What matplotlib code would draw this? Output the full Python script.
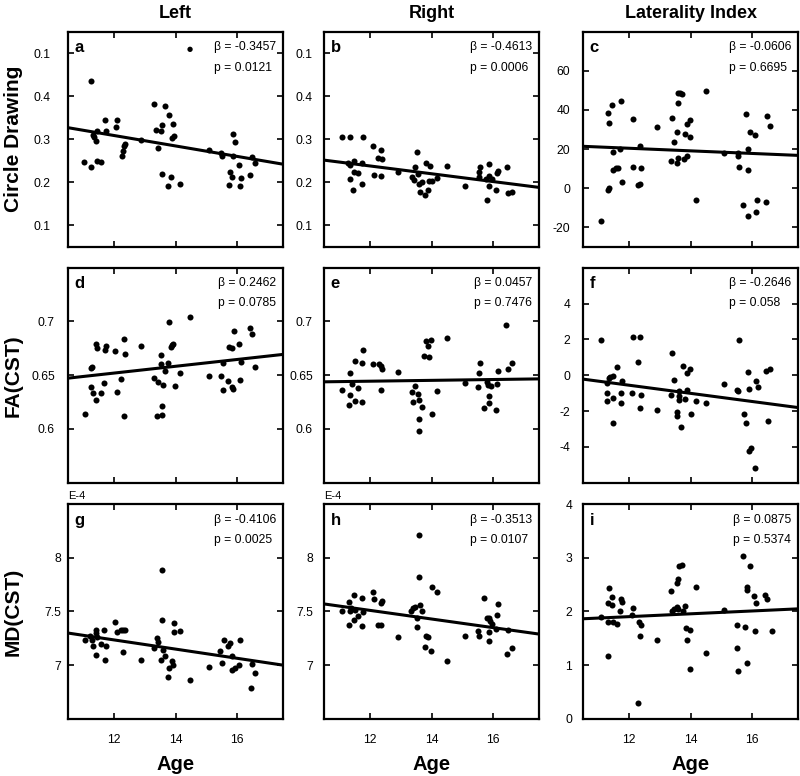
import numpy as np
import matplotlib
matplotlib.use("Agg")
import matplotlib.pyplot as plt

plt.rcParams['font.family'] = ['Liberation Sans', 'DejaVu Sans']

# --- data ---
age_a = [11.26, 11.02, 11.26, 11.30, 11.35, 11.43, 11.40, 11.43, 11.56, 11.70, 11.72, 12.05, 12.09,
         12.25, 12.30, 12.33, 12.35, 12.89, 13.31, 13.37, 13.43, 13.53, 13.56, 13.57, 13.66, 13.75,
         13.79, 13.86, 13.88, 13.92, 13.96, 14.15, 15.08, 15.48, 15.51, 15.73, 15.76, 15.86, 15.86,
         15.85, 15.92, 16.07, 16.10, 16.13, 16.43, 16.48, 16.59]
val_a = [0.436, 0.247, 0.235, 0.310, 0.305, 0.319, 0.295, 0.250, 0.247, 0.346, 0.319, 0.328, 0.344,
         0.260, 0.272, 0.284, 0.290, 0.299, 0.381, 0.322, 0.280, 0.319, 0.333, 0.219, 0.378, 0.192,
         0.357, 0.212, 0.304, 0.336, 0.308, 0.196, 0.274, 0.267, 0.260, 0.194, 0.223, 0.312, 0.262,
         0.212, 0.294, 0.241, 0.192, 0.209, 0.217, 0.258, 0.246]

age_b = [11.09, 11.35, 11.78, 11.27, 11.33, 11.46, 11.35, 11.43, 11.49, 11.61, 11.72, 11.74, 12.09,
         12.13, 12.27, 12.35, 12.38, 12.35, 12.91, 13.35, 13.43, 13.46, 13.54, 13.57, 13.59, 13.61,
         13.70, 13.77, 13.83, 13.89, 13.90, 13.96, 14.00, 14.17, 14.50, 15.10, 15.58, 15.55, 15.55,
         15.76, 15.80, 15.86, 15.88, 15.88, 15.95, 16.08, 16.14, 16.16, 16.45, 16.50, 16.60]
val_b = [0.305, 0.305, 0.305, 0.246, 0.241, 0.250, 0.208, 0.181, 0.225, 0.221, 0.245, 0.196, 0.285,
         0.218, 0.257, 0.275, 0.254, 0.214, 0.223, 0.212, 0.206, 0.236, 0.271, 0.219, 0.196, 0.177,
         0.200, 0.171, 0.245, 0.181, 0.204, 0.238, 0.204, 0.210, 0.239, 0.192, 0.235, 0.223, 0.212,
         0.208, 0.158, 0.242, 0.215, 0.192, 0.208, 0.183, 0.222, 0.227, 0.236, 0.175, 0.177]

age_c = [11.08, 11.31, 11.34, 11.43, 11.32, 11.34, 11.46, 11.48, 11.57, 11.62, 11.73, 11.71, 11.77,
         12.11, 12.13, 12.27, 12.34, 12.35, 12.38, 12.90, 13.34, 13.40, 13.45, 13.55, 13.55, 13.59,
         13.59, 13.58, 13.65, 13.73, 13.77, 13.82, 13.87, 13.89, 13.98, 13.97, 14.17, 14.50, 15.08,
         15.52, 15.53, 15.57, 15.71, 15.79, 15.85, 15.86, 15.86, 15.92, 16.08, 16.11, 16.15, 16.43,
         16.49, 16.59]
val_c = [-16.6, 38.6, 33.5, 42.7, -1.0, 0.2, 18.6, 9.2, 10.1, 10.4, 44.6, 20.0, 3.1,
         10.9, 35.2, 1.5, 2.2, 21.4, 10.4, 31.5, 13.8, 35.7, 23.8, 13.0, 28.9, 15.6,
         43.8, 48.5, 48.5, 48.4, 14.7, 27.9, 16.4, 33.0, 34.9, 26.3, -6.0, 49.7, 17.8,
         18.1, 16.4, 10.8, -8.4, 37.8, 20.2, 9.2, -14.5, 28.9, 27.0, -12.3, -6.3, -7.2,
         36.9, 31.8]

age_d = [11.04, 11.26, 11.29, 11.26, 11.31, 11.42, 11.42, 11.43, 11.56, 11.67, 11.73, 11.70, 12.04,
         12.08, 12.24, 12.31, 12.35, 12.32, 12.87, 13.31, 13.39, 13.43, 13.53, 13.53, 13.56, 13.57,
         13.58, 13.65, 13.74, 13.79, 13.85, 13.89, 13.93, 13.97, 14.14, 14.48, 15.08, 15.48, 15.53,
         15.55, 15.72, 15.75, 15.85, 15.83, 15.86, 15.91, 16.07, 16.11, 16.14, 16.42, 16.48, 16.59]
val_d = [0.6136, 0.6565, 0.6572, 0.6394, 0.6332, 0.6270, 0.6790, 0.6750, 0.6332, 0.6425, 0.6774,
         0.6734, 0.6727, 0.6347, 0.6469, 0.6836, 0.6696, 0.6120, 0.6774, 0.6478, 0.6120, 0.6438,
         0.6687, 0.6603, 0.6132, 0.6213, 0.6410, 0.6540, 0.6618, 0.6998, 0.6759, 0.6780, 0.6790,
         0.6400, 0.6525, 0.7045, 0.6488, 0.6488, 0.6618, 0.6363, 0.6447, 0.6765, 0.6750, 0.6391,
         0.6375, 0.6911, 0.6793, 0.6453, 0.6625, 0.6936, 0.6880, 0.6572]

age_e = [11.09, 11.33, 11.35, 11.30, 11.41, 11.50, 11.50, 11.62, 11.72, 11.74, 11.78, 12.10, 12.30,
         12.34, 12.38, 12.35, 12.90, 13.35, 13.41, 13.46, 13.57, 13.60, 13.60, 13.60, 13.70, 13.76,
         13.90, 13.83, 13.97, 13.88, 14.00, 14.17, 14.50, 15.10, 15.52, 15.54, 15.58, 15.72, 15.80,
         15.84, 15.92, 15.86, 15.87, 16.09, 16.13, 16.16, 16.43, 16.50, 16.60]
val_e = [0.6360, 0.6519, 0.6313, 0.6226, 0.6416, 0.6631, 0.6257, 0.6379, 0.6251, 0.6612, 0.6737,
         0.6603, 0.6603, 0.6581, 0.6562, 0.6363, 0.6534, 0.6344, 0.6251, 0.6400, 0.6329, 0.6270,
         0.6089, 0.5980, 0.6204, 0.6681, 0.6665, 0.6821, 0.6830, 0.6768, 0.6142, 0.6354, 0.6846,
         0.6425, 0.6394, 0.6519, 0.6612, 0.6192, 0.6438, 0.6407, 0.6400, 0.6307, 0.6245, 0.6173,
         0.6416, 0.6540, 0.6967, 0.6562, 0.6615]

age_f = [11.08, 11.29, 11.34, 11.37, 11.48, 11.29, 11.29, 11.46, 11.48, 11.61, 11.72, 11.72, 11.77,
         12.08, 12.13, 12.35, 12.28, 12.35, 12.38, 12.90, 13.35, 13.40, 13.46, 13.55, 13.55, 13.60,
         13.60, 13.60, 13.68, 13.76, 13.82, 13.87, 13.89, 13.98, 14.00, 14.17, 14.50, 15.09, 15.50,
         15.53, 15.58, 15.74, 15.79, 15.86, 15.88, 15.89, 15.95, 16.09, 16.12, 16.17, 16.43, 16.59,
         16.50]
val_f = [1.96, -0.41, -0.17, -0.09, -0.07, -0.97, -1.44, -2.69, -1.25, 0.43, -1.01, -1.53, -0.32,
         -0.97, 2.11, 2.11, 0.75, -1.83, -1.10, -1.96, -1.10, 1.23, -0.28, -2.05, -2.28, -0.91,
         -1.16, -1.38, -2.87, 0.52, -1.31, 0.11, -0.82, 0.34, -2.18, -1.44, -1.53, -0.50, -0.82,
         -0.88, 1.98, -2.18, -2.69, 0.19, -0.78, -4.24, -4.09, -5.17, -0.35, -0.65, 0.22, 0.37,
         -2.57]

age_g = [11.04, 11.23, 11.27, 11.32, 11.40, 11.42, 11.43, 11.40, 11.56, 11.67, 11.70, 11.73, 12.04,
         12.08, 12.22, 12.30, 12.35, 12.30, 12.87, 13.30, 13.39, 13.42, 13.53, 13.56, 13.57, 13.60,
         13.64, 13.75, 13.80, 13.88, 13.92, 13.96, 13.95, 14.15, 14.46, 15.08, 15.44, 15.52, 15.56,
         15.72, 15.77, 15.85, 15.85, 15.92, 16.07, 16.10, 16.48, 16.44, 16.59]
val_g = [7.231, 7.275, 7.238, 7.176, 7.330, 7.300, 7.262, 7.093, 7.200, 7.330, 7.052, 7.182, 7.398,
         7.306, 7.330, 7.330, 7.330, 7.120, 7.052, 7.160, 7.253, 7.213, 7.052, 7.886, 7.417, 7.145,
         7.083, 6.892, 6.975, 7.037, 7.006, 7.306, 7.392, 7.321, 6.867, 6.981, 7.130, 7.022, 7.231,
         7.182, 7.207, 7.083, 6.960, 6.975, 7.000, 7.238, 7.012, 6.790, 6.929]

age_h = [11.09, 11.30, 11.30, 11.35, 11.38, 11.46, 11.46, 11.52, 11.61, 11.72, 11.75, 11.78, 12.10,
         12.13, 12.27, 12.34, 12.35, 12.38, 12.91, 13.34, 13.39, 13.45, 13.54, 13.54, 13.60, 13.60,
         13.61, 13.70, 13.77, 13.83, 13.89, 14.00, 13.99, 14.18, 14.50, 15.10, 15.52, 15.54, 15.72,
         15.80, 15.86, 15.91, 15.96, 15.86, 15.87, 16.09, 16.12, 16.16, 16.46, 16.48, 16.60]
val_h = [7.509, 7.586, 7.377, 7.500, 7.537, 7.654, 7.423, 7.515, 7.460, 7.630, 7.367, 7.497, 7.685,
         7.617, 7.377, 7.377, 7.577, 7.599, 7.262, 7.500, 7.531, 7.546, 7.438, 7.352, 8.210, 7.818,
         7.562, 7.509, 7.170, 7.269, 7.262, 7.725, 7.130, 7.685, 7.043, 7.269, 7.321, 7.269, 7.630,
         7.444, 7.438, 7.414, 7.383, 7.228, 7.309, 7.336, 7.469, 7.568, 7.108, 7.324, 7.160]

age_i = [11.08, 11.30, 11.35, 11.32, 11.32, 11.43, 11.48, 11.45, 11.61, 11.71, 11.73, 11.77, 12.12,
         12.10, 12.27, 12.32, 12.37, 12.34, 12.90, 13.34, 13.39, 13.45, 13.54, 13.57, 13.55, 13.59,
         13.61, 13.70, 13.75, 13.81, 13.86, 13.97, 13.87, 13.96, 14.16, 14.49, 15.07, 15.50, 15.51,
         15.55, 15.69, 15.77, 15.84, 15.84, 15.84, 15.91, 16.06, 16.13, 16.10, 16.42, 16.48, 16.63]
val_i = [1.895, 2.154, 2.432, 1.796, 1.167, 2.265, 1.796, 2.123, 1.772, 2.000, 2.235, 2.185, 2.074,
         1.926, 0.290, 1.796, 1.741, 1.537, 1.469, 2.389, 2.000, 2.043, 2.080, 2.050, 2.537, 2.605,
         2.852, 2.864, 2.000, 2.105, 1.691, 1.648, 1.469, 0.932, 2.457, 1.222, 2.031, 1.315, 1.753,
         0.901, 3.031, 1.710, 1.043, 2.451, 2.401, 2.846, 2.296, 2.154, 1.630, 2.302, 2.228, 1.630]

# regression line: value at age 14 and slope per year
fit_mid = [0.2845, 0.2198, 19.08, 0.6583, 0.6452, -1.015, 7.150, 7.430, 1.957]
fit_slope = [-0.01214, -0.00907, -0.664, 0.00316, 0.00039, -0.227, -0.0427, -0.0401, 0.0264]

betas = ['-0.3457', '-0.4613', '-0.0606', '0.2462', '0.0457', '-0.2646', '-0.4106', '-0.3513', '0.0875']
pvals = ['0.0121', '0.0006', '0.6695', '0.0785', '0.7476', '0.058', '0.0025', '0.0107', '0.5374']
letters = list('abcdefghi')
col_titles = ['Left', 'Right', 'Laterality Index']
row_labels = ['Circle Drawing', 'FA(CST)', 'MD(CST)']

ages = [age_a, age_b, age_c, age_d, age_e, age_f, age_g, age_h, age_i]
vals = [val_a, val_b, val_c, val_d, val_e, val_f, val_g, val_h, val_i]

ylims = [(0.05, 0.55), (0.05, 0.55), (-30, 80),
         (0.55, 0.75), (0.55, 0.75), (-6, 6),
         (6.5, 8.5), (6.5, 8.5), (0, 4)]
yticks = [[0.1, 0.2, 0.3, 0.4, 0.5], [0.1, 0.2, 0.3, 0.4, 0.5], [-20, 0, 20, 40, 60],
          [0.6, 0.65, 0.7], [0.6, 0.65, 0.7], [-4, -2, 0, 2, 4],
          [7, 7.5, 8], [7, 7.5, 8], [0, 1, 2, 3, 4]]
yticklabels = [['0.1', '0.2', '0.3', '0.4', '0.1'], ['0.1', '0.2', '0.3', '0.4', '0.1'],
               ['-20', '0', '20', '40', '60'],
               ['0.6', '0.65', '0.7'], ['0.6', '0.65', '0.7'], ['-4', '-2', '0', '2', '4'],
               ['7', '7.5', '8'], ['7', '7.5', '8'], ['0', '1', '2', '3', '4']]
ypads = [12.5, 8, 9.5, 9.5, 8, 9.5, 5, 8, 8]

fig = plt.figure(figsize=(8, 7.76), dpi=100)
lefts = [0.085, 0.405, 0.729]
bottoms = [0.682, 0.378, 0.0735]
w, h = 0.269, 0.277

for k in range(9):
    r, c = divmod(k, 3)
    ax = fig.add_axes([lefts[c], bottoms[r], w, h])
    ax.scatter(ages[k], vals[k], s=19, color='black', linewidths=0, zorder=3)
    xs = np.array([10.5, 17.5])
    ax.plot(xs, fit_mid[k] + fit_slope[k] * (xs - 14), color='black', lw=2.2, zorder=4,
            solid_capstyle='butt')
    ax.set_xlim(10.5, 17.5)
    ax.set_ylim(*ylims[k])
    ax.set_xticks([12, 14, 16])
    ax.set_yticks(yticks[k])
    ax.set_yticklabels(yticklabels[k])
    ax.tick_params(direction='in', top=True, right=True, length=4, width=1.2,
                   labelsize=8.7, colors='black')
    ax.tick_params(axis='y', pad=ypads[k])
    ax.tick_params(axis='x', pad=11)
    for sp in ax.spines.values():
        sp.set_linewidth(1.6)
    if r < 2:
        ax.set_xticklabels([])
    else:
        ax.set_xlabel('Age', fontsize=14.5, fontweight='bold', labelpad=6)
    if r == 0:
        ax.set_title(col_titles[c], fontsize=13, fontweight='bold', pad=10)
    if c == 0:
        ax.set_ylabel(row_labels[r], fontsize=15, fontweight='bold')
        ax.yaxis.set_label_coords(-0.21, 0.5)
    ax.text(0.03, 0.925, letters[k], transform=ax.transAxes, fontsize=12,
            fontweight='bold', va='center', ha='left')
    ax.text(0.967, 0.955, 'β = ' + betas[k] + '\np = ' + pvals[k], transform=ax.transAxes,
            fontsize=8.7, ha='right', va='top', multialignment='left', linespacing=1.9)
    if k == 0:
        ax.text(0.567, 0.921, '●', transform=ax.transAxes, fontsize=5,
                family='DejaVu Sans', ha='center', va='center')
    if k in (6, 7):
        ax.text(0.0, 1.015, 'E-4', transform=ax.transAxes, fontsize=8, ha='left', va='bottom')

fig.savefig('out.png', dpi=100)
